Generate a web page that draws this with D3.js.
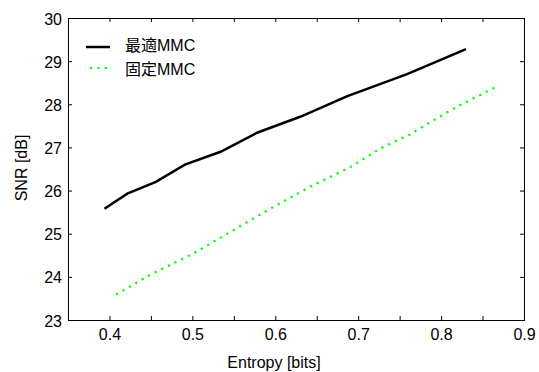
<!DOCTYPE html>
<html>
<head>
<meta charset="utf-8">
<script src="https://cdn.jsdelivr.net/npm/d3@7"></script>
<style>
body { margin: 0; background: #fff; }
text { font-family: "Liberation Sans", Arial, "Noto Sans CJK JP", sans-serif; fill: #000; }
</style>
</head>
<body>
<div id="chart"></div>
<script>
// optimal MMC (black solid)
var optX = [0.394, 0.4215, 0.456, 0.491, 0.534, 0.578, 0.630, 0.687, 0.759, 0.830];
var optY = [25.58, 25.93, 26.20, 26.60, 26.90, 27.34, 27.71, 28.19, 28.70, 29.28];
// fixed MMC (green dotted)
var fixX = [0.408, 0.451, 0.500, 0.594, 0.646, 0.692, 0.726, 0.762, 0.814, 0.869];
var fixY = [23.59, 24.07, 24.53, 25.58, 26.13, 26.56, 26.97, 27.30, 27.89, 28.43];

var seriesNames = ["最適MMC", "固定MMC"];
var xTicks = [0.4, 0.5, 0.6, 0.7, 0.8, 0.9];
var xMinor = [0.35, 0.4, 0.45, 0.5, 0.55, 0.6, 0.65, 0.7, 0.75, 0.8, 0.85, 0.9];
var yTicks = [23, 24, 25, 26, 27, 28, 29, 30];

var svgWidth = 539, svgHeight = 372;
var margin = {top: 18, right: 15, bottom: 52, left: 68};
var chartWidth = 524 - margin.left;
var chartHeight = 320 - margin.top;

var svg = d3.select("#chart")
    .append("svg")
    .attr("width", svgWidth)
    .attr("height", svgHeight);

var chartGroup = svg.append("g")
    .attr("transform", `translate(${margin.left}, ${margin.top})`);

var x = d3.scaleLinear().domain([0.35, 0.9]).range([0, chartWidth]);
var y = d3.scaleLinear().domain([23, 30]).range([chartHeight, 0]);

// inward ticks on all sides
function noDomain(g) { g.select(".domain").remove(); }

chartGroup.append("g")
    .attr("transform", `translate(0, ${chartHeight})`)
    .call(d3.axisBottom(x).tickValues(xMinor).tickSize(-4).tickPadding(9)
        .tickFormat(d => xTicks.some(t => Math.abs(t - d) < 1e-9) ? d3.format(".1f")(d) : ""))
    .call(noDomain)
    .call(g => g.selectAll("text").attr("font-size", 16));

chartGroup.append("g")
    .call(d3.axisTop(x).tickValues(xMinor).tickSize(-4).tickFormat(""))
    .call(noDomain);

chartGroup.append("g")
    .call(d3.axisLeft(y).tickValues(yTicks).tickSize(-4).tickPadding(6).tickFormat(d3.format("d")))
    .call(noDomain)
    .call(g => g.selectAll("text").attr("font-size", 16).attr("dy", "0.38em"));

chartGroup.append("g")
    .attr("transform", `translate(${chartWidth}, 0)`)
    .call(d3.axisRight(y).tickValues(yTicks).tickSize(-4).tickFormat(""))
    .call(noDomain);

chartGroup.selectAll(".tick line").attr("stroke", "#000");

chartGroup.append("rect")
    .attr("x", 0.5).attr("y", 0.5)
    .attr("width", chartWidth).attr("height", chartHeight)
    .attr("fill", "none").attr("stroke", "#000").attr("stroke-width", 1);

var line = d3.line().x(d => x(d[0])).y(d => y(d[1]));

chartGroup.append("path")
    .datum(d3.zip(optX, optY))
    .attr("d", line)
    .attr("fill", "none")
    .attr("stroke", "#000")
    .attr("stroke-width", 2.5);

chartGroup.append("path")
    .datum(d3.zip(fixX, fixY))
    .attr("d", line)
    .attr("fill", "none")
    .attr("stroke", "#00ff00")
    .attr("stroke-width", 2.2)
    .attr("stroke-dasharray", "2.2,5.2");

// legend
var legend = chartGroup.append("g").attr("transform", "translate(18, 27)");
legend.append("line")
    .attr("x1", 0).attr("x2", 24).attr("y1", 2).attr("y2", 2)
    .attr("stroke", "#000").attr("stroke-width", 2.5);
legend.append("line")
    .attr("x1", 4).attr("x2", 24).attr("y1", 23).attr("y2", 23)
    .attr("stroke", "#00ff00").attr("stroke-width", 2.2)
    .attr("stroke-dasharray", "2.2,5.2");
legend.selectAll("text.lg")
    .data(seriesNames)
    .enter()
    .append("text")
    .attr("class", "lg")
    .attr("x", 39)
    .attr("y", (d, i) => i * 24 + 6)
    .attr("font-size", 16)
    .text(d => d);

svg.append("text")
    .attr("transform", "rotate(-90)")
    .attr("x", -168)
    .attr("y", 27)
    .attr("text-anchor", "middle")
    .attr("font-size", 16)
    .text("SNR [dB]");

svg.append("text")
    .attr("x", 274)
    .attr("y", 368)
    .attr("text-anchor", "middle")
    .attr("font-size", 16)
    .text("Entropy [bits]");
</script>
</body>
</html>
